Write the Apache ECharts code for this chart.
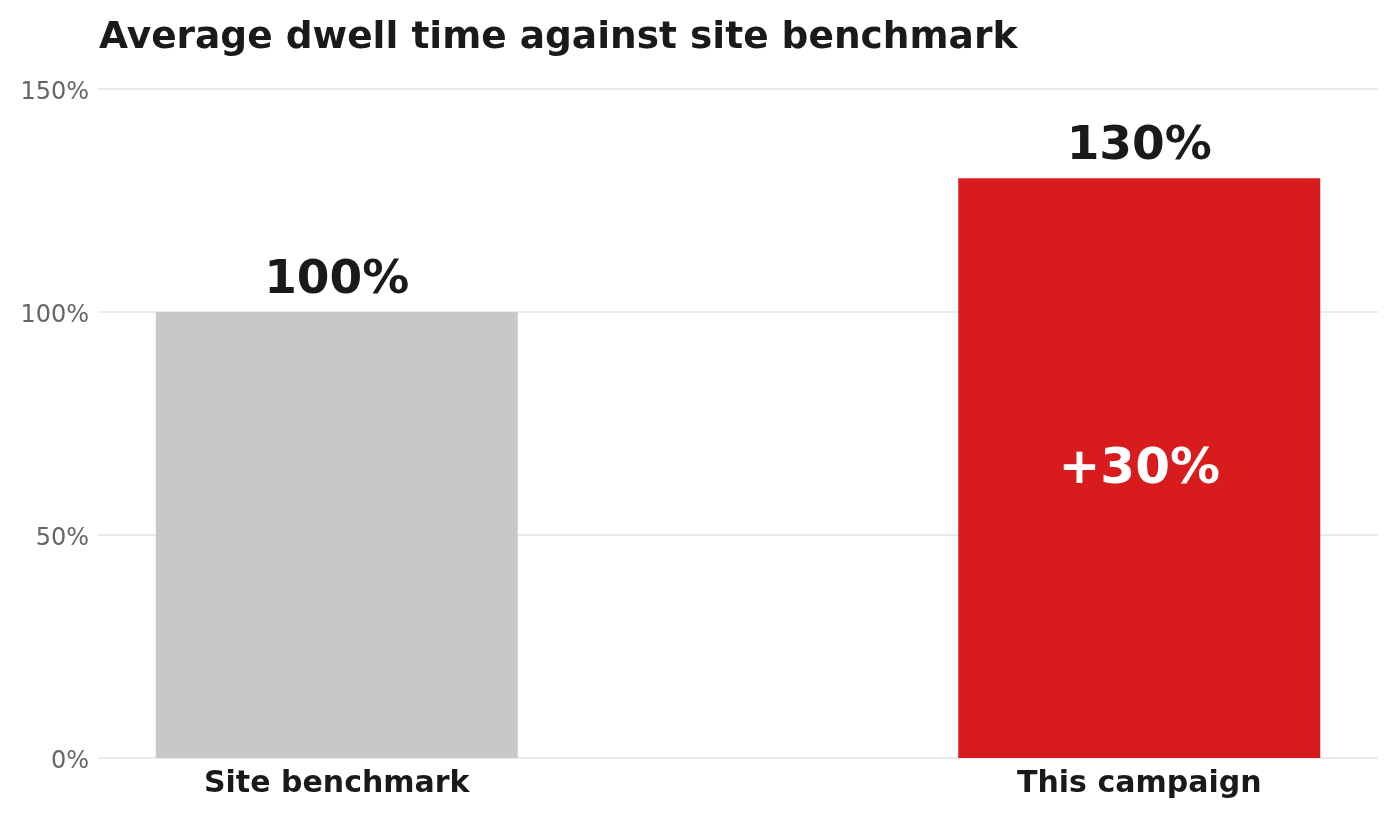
<!DOCTYPE html>
<html>
<head>
<meta charset="utf-8">
<script src="https://cdn.jsdelivr.net/npm/echarts@6/dist/echarts.min.js"></script>
<style>html,body{margin:0;padding:0;background:#fff}#c{width:1396px;height:815px}</style>
</head>
<body>
<div id="c"></div>
<script>
const categories = ['Site benchmark', 'This campaign'];
const values = [100, 130];
const yTicks = [0, 50, 100, 150];
const barColors = ['#c8c8c8', '#d81b1d'];

const FONT = '"DejaVu Sans", sans-serif';
const chart = echarts.init(document.getElementById('c'));
const diff = values[1] - values[0];

chart.setOption({
  animation: false,
  backgroundColor: '#ffffff',
  title: {
    text: 'Average dwell time against site benchmark',
    left: 94, top: 14,
    textStyle: { fontFamily: FONT, fontSize: 37.5, fontWeight: 'bold', color: '#1a1a1a' }
  },
  grid: { left: 98, right: 18, top: 89, bottom: 57 },
  xAxis: {
    type: 'value', min: -0.2975, max: 1.2975,
    axisLine: { show: false }, axisTick: { show: false }, splitLine: { show: false },
    axisLabel: {
      customValues: [0, 1],
      formatter: v => categories[Math.round(v)] || '',
      fontFamily: FONT, fontSize: 30, fontWeight: 'bold', color: '#1a1a1a', margin: 11
    }
  },
  yAxis: {
    type: 'value', min: yTicks[0], max: yTicks[yTicks.length - 1], interval: 50,
    axisLine: { show: false }, axisTick: { show: false },
    splitLine: { lineStyle: { color: '#e4e4e4', width: 1.5 } },
    axisLabel: {
      formatter: v => '{t|' + v + '%}', margin: 9,
      rich: { t: { fontFamily: FONT, fontSize: 24, color: '#666666', padding: [7, 0, 0, 0] } }
    }
  },
  series: [
    {
      type: 'bar', barWidth: 362,
      data: values.map((v, i) => ({ value: [i, v], itemStyle: { color: barColors[i] } })),
      label: {
        show: true, position: 'top', distance: 8,
        formatter: p => p.value[1] + '%',
        fontFamily: FONT, fontSize: 47, fontWeight: 'bold', color: '#1a1a1a'
      }
    },
    {
      type: 'bar', barWidth: 362, barGap: '-100%',
      data: values.map((v, i) => ({ value: [i, v], itemStyle: { color: 'rgba(0,0,0,0)' } })),
      label: {
        show: true, position: 'inside', offset: [0, 2],
        formatter: p => p.dataIndex === 1 ? '+' + diff + '%' : '',
        fontFamily: FONT, fontSize: 50, fontWeight: 'bold', color: '#ffffff'
      }
    }
  ]
});
</script>
</body>
</html>
